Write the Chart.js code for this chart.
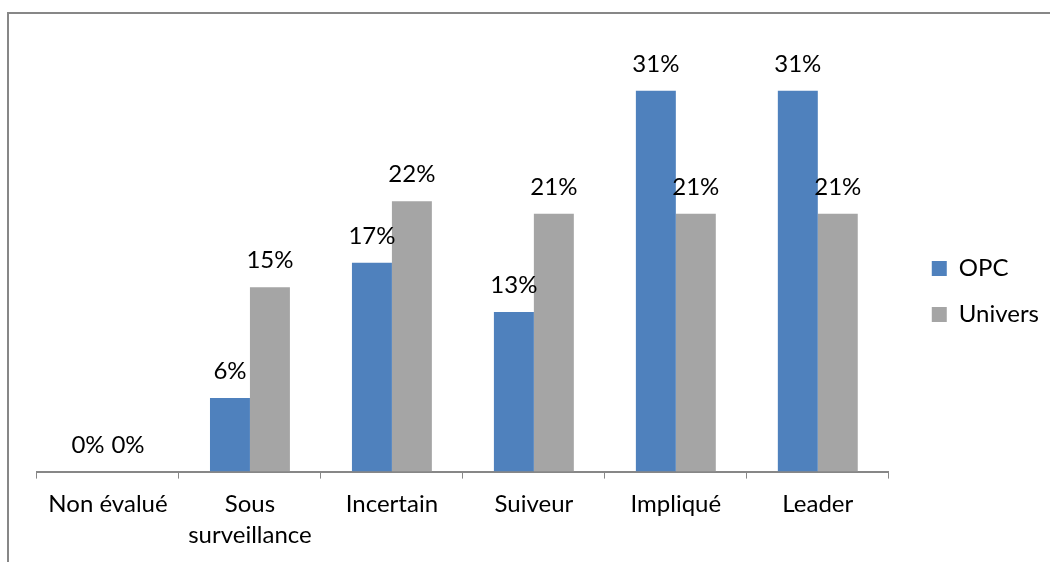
<!DOCTYPE html>
<html>
<head>
<meta charset="utf-8">
<script src="https://cdn.jsdelivr.net/npm/chart.js@4.4.0/dist/chart.umd.min.js"></script>
<style>
  html, body { margin: 0; padding: 0; background: #fff; overflow: hidden; }
  #frame { position: absolute; left: 7px; top: 12px; width: 1100px; height: 600px; border-top: 2px solid #878787; border-left: 2px solid #878787; }
  #wrap { position: absolute; left: 0; top: 0; width: 1050px; height: 562px; }
</style>
</head>
<body>
<div id="frame"></div>
<div id="wrap"><canvas id="c" width="1050" height="562"></canvas></div>
<script>
const categories = ['Non évalué', ['Sous', 'surveillance'], 'Incertain', 'Suiveur', 'Impliqué', 'Leader'];
const opcValues = [0, 6, 17, 13, 31, 31];
const universValues = [0, 15, 22, 21, 21, 21];
const seriesNames = ['OPC', 'Univers'];

const FONT = 'Lato, "Open Sans", sans-serif';
const FS = 24;

const labelPlugin = {
  id: 'valueLabels',
  afterDatasetsDraw(chart) {
    const ctx = chart.ctx;
    ctx.save();
    ctx.font = FS + 'px ' + FONT;
    ctx.fillStyle = '#000';
    ctx.textAlign = 'center';
    ctx.textBaseline = 'alphabetic';
    chart.data.datasets.forEach((ds, di) => {
      const meta = chart.getDatasetMeta(di);
      meta.data.forEach((bar, i) => {
        ctx.fillText(ds.data[i] + '%', bar.x, bar.y - 19);
      });
    });
    ctx.restore();
  }
};

new Chart(document.getElementById('c'), {
  type: 'bar',
  data: {
    labels: categories,
    datasets: [
      { label: seriesNames[0], data: opcValues, backgroundColor: '#4F81BD', categoryPercentage: 0.563, barPercentage: 1.0 },
      { label: seriesNames[1], data: universValues, backgroundColor: '#A5A5A5', categoryPercentage: 0.563, barPercentage: 1.0 }
    ]
  },
  options: {
    responsive: false,
    animation: false,
    layout: { padding: { left: 37, top: 22, right: 1, bottom: 1 } },
    plugins: {
      legend: {
        position: 'right',
        labels: { boxWidth: 15, boxHeight: 15, color: '#000', font: { family: FONT, size: FS }, padding: 22 }
      },
      tooltip: { enabled: false }
    },
    scales: {
      x: {
        offset: true,
        grid: { display: true, offset: true, drawOnChartArea: false, drawTicks: true, tickLength: 7, color: '#878787' },
        border: { display: true, color: '#878787', width: 2 },
        ticks: { color: '#000', font: { family: FONT, size: FS, lineHeight: 1.3 }, maxRotation: 0, autoSkip: false, padding: 10 }
      },
      y: {
        position: 'right',
        min: 0,
        max: 36.6,
        grid: { display: false },
        border: { display: false },
        ticks: { display: false },
        afterFit(scale) { scale.width = 21; }
      }
    }
  },
  plugins: [labelPlugin]
});
</script>
</body>
</html>
